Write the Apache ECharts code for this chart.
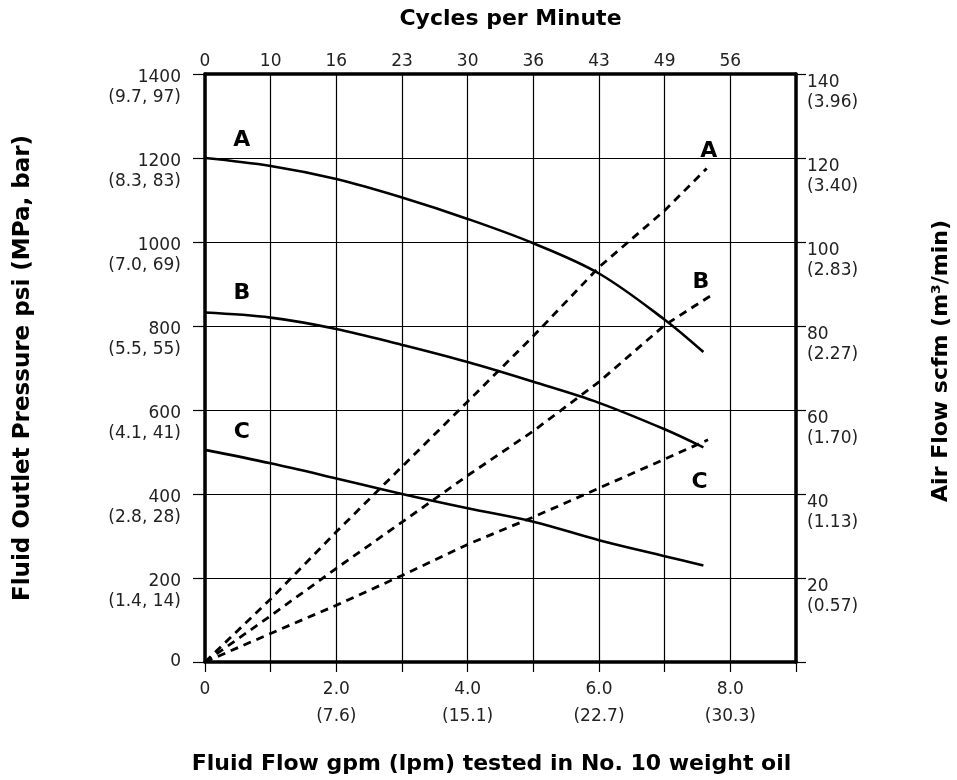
<!DOCTYPE html>
<html>
<head>
<meta charset="utf-8">
<title>Fluid / Air Flow Performance</title>
<script src="https://cdn.jsdelivr.net/npm/echarts@6/dist/echarts.min.js"></script>
<style>
  html, body { margin: 0; padding: 0; background: #fff; }
  #chart { width: 957px; height: 780px; }
</style>
</head>
<body>
<div id="chart"></div>
<script>
// fluid flow (gpm) for the pressure curves
const flowGpm = [0, 1, 2, 3, 4, 5, 6, 7, 7.59]
const psiA = [1200, 1181, 1150, 1106, 1055, 997, 925, 815, 738]
const psiB = [832, 820, 793, 755, 714, 667, 617, 554, 511]
const psiC = [505, 473, 437, 400, 366, 334, 290, 252, 230]

// air consumption (scfm) dashed lines
const airGpmA = [0, 1, 2, 3, 4, 5, 6, 7, 7.64]
const scfmA = [0, 15, 31, 46.5, 62, 77.6, 94, 107.5, 117.5]
const airGpmB = [0, 1, 2, 3, 4, 5, 6, 7, 7.7]
const scfmB = [0, 11, 22.3, 33.3, 44.4, 55, 66.7, 80.2, 87.2]
const airGpmC = [0, 1, 2, 3, 4, 5, 6, 7, 7.66]
const scfmC = [0, 6.8, 13.5, 20.6, 28, 34.5, 41.4, 48.3, 52.9]

// tick labels
const gpmLabels = ['0', '', '2.0', '', '4.0', '', '6.0', '', '8.0', '']
const lpmLabels = ['', '', '(7.6)', '', '(15.1)', '', '(22.7)', '', '(30.3)', '']
const cycleLabels = ['0', '10', '16', '23', '30', '36', '43', '49', '56', '']
const psiSub = ['', '(1.4, 14)', '(2.8, 28)', '(4.1, 41)', '(5.5, 55)', '(7.0, 69)', '(8.3, 83)', '(9.7, 97)']
const scfmSub = ['', '(0.57)', '(1.13)', '(1.70)', '(2.27)', '(2.83)', '(3.40)', '(3.96)']

// curve letters [gpm, psi, text]
const curveTags = [
  [0.56, 1243, 'A'], [0.56, 879, 'B'], [0.56, 548, 'C'],
  [7.67, 1215, 'A'], [7.55, 905, 'B'], [7.53, 428, 'C']
]

const FONT = 'DejaVu Sans'
const INK = '#000'
const pairs = (xs, ys) => xs.map((x, i) => [x, ys[i]])

const chart = echarts.init(document.getElementById('chart'))

const solid = (name, ys) => ({
  name, type: 'line', xAxisIndex: 0, yAxisIndex: 0,
  data: pairs(flowGpm, ys), smooth: 0.35, symbol: 'none',
  lineStyle: { color: INK, width: 2.6 }, z: 5
})
const dashed = (name, xs, ys) => ({
  name, type: 'line', xAxisIndex: 0, yAxisIndex: 1,
  data: pairs(xs, ys), smooth: false, symbol: 'none',
  lineStyle: { color: INK, width: 2.8, type: [8, 6] }, z: 5
})

const tickText = { fontFamily: FONT, fontSize: 17, color: '#222' }
const titleText = { fontFamily: FONT, fontSize: 22, fontWeight: 'bold', color: INK }

const option = {
  backgroundColor: '#fff',
  animation: false,
  grid: { left: 205, right: 161, top: 74, bottom: 118, outerBoundsMode: 'none' },
  xAxis: [
    {
      type: 'value', position: 'bottom', min: 0, max: 9, interval: 1,
      name: 'Fluid Flow gpm (lpm) tested in No. 10 weight oil',
      nameLocation: 'middle', nameGap: 91,
      nameTextStyle: { ...titleText, padding: [0, 18, 0, 0] },
      axisLine: { onZero: false, lineStyle: { color: INK, width: 3.5 } },
      axisTick: { show: true, length: 10, lineStyle: { color: INK, width: 1.2 } },
      splitLine: { show: true, lineStyle: { color: INK, width: 1.2 } },
      axisLabel: {
        margin: 19, showMinLabel: true, showMaxLabel: true,
        formatter: (v) => {
          const i = Math.round(v)
          if (!gpmLabels[i]) return ''
          return lpmLabels[i] ? `{a|${gpmLabels[i]}}\n{b|${lpmLabels[i]}}` : `{a|${gpmLabels[i]}}`
        },
        rich: {
          a: { ...tickText, lineHeight: 18 },
          b: { ...tickText, lineHeight: 36 }
        }
      }
    },
    {
      type: 'value', position: 'top', min: 0, max: 9, interval: 1,
      name: 'Cycles per Minute', nameLocation: 'middle', nameGap: 44,
      nameTextStyle: { ...titleText, padding: [0, 0, 0, 20] },
      axisLine: { onZero: false, lineStyle: { color: INK, width: 3.5 } },
      axisTick: { show: false },
      splitLine: { show: false },
      axisLabel: {
        ...tickText, margin: 4, showMaxLabel: true,
        formatter: (v) => cycleLabels[Math.round(v)] || ''
      }
    }
  ],
  yAxis: [
    {
      type: 'value', position: 'left', min: 0, max: 1400, interval: 200,
      name: 'Fluid Outlet Pressure psi (MPa, bar)', nameLocation: 'middle',
      nameRotate: 90, nameGap: 170,
      nameTextStyle: { ...titleText, fontSize: 23 },
      axisLine: { onZero: false, lineStyle: { color: INK, width: 3.5 } },
      axisTick: { show: true, length: 12, lineStyle: { color: INK, width: 1.2 } },
      splitLine: { show: true, lineStyle: { color: INK, width: 1.2 } },
      axisLabel: {
        margin: 24, showMaxLabel: true,
        formatter: (v) => {
          const i = Math.round(v / 200)
          return i === 0 ? '{a|0}' : `{p| }\n{a|${v}}\n{a|${psiSub[i]}}`
        },
        rich: { p: { ...tickText, lineHeight: 28 }, a: { ...tickText, lineHeight: 20, align: 'right' } }
      }
    },
    {
      type: 'value', position: 'right', min: 0, max: 140, interval: 20,
      name: 'Air Flow scfm (m³/min)', nameLocation: 'middle',
      nameRotate: 90, nameGap: 134,
      nameTextStyle: { ...titleText, padding: [0, 0, 0, 14] },
      axisLine: { onZero: false, lineStyle: { color: INK, width: 3.5 } },
      axisTick: { show: true, length: 10, lineStyle: { color: INK, width: 1.2 } },
      splitLine: { show: false },
      axisLabel: {
        margin: 11, showMaxLabel: true,
        formatter: (v) => {
          const i = Math.round(v / 20)
          return i === 0 ? '' : `{p| }\n{a|${v}}\n{a|${scfmSub[i]}}`
        },
        rich: { p: { ...tickText, lineHeight: 37 }, a: { ...tickText, lineHeight: 20, align: 'left' } }
      }
    }
  ],
  series: [
    solid('A psi', psiA),
    solid('B psi', psiB),
    solid('C psi', psiC),
    dashed('A scfm', airGpmA, scfmA),
    dashed('B scfm', airGpmB, scfmB),
    dashed('C scfm', airGpmC, scfmC),
    {
      name: 'tags', type: 'scatter', xAxisIndex: 0, yAxisIndex: 0,
      data: curveTags, symbol: 'circle', symbolSize: 0.1, itemStyle: { color: '#fff' },
      label: {
        show: true, position: 'inside', formatter: (p) => p.data[2],
        fontFamily: FONT, fontSize: 22, fontWeight: 'bold', color: '#000', opacity: 1
      },
      emphasis: { disabled: true },
      z: 6
    }
  ]
}

chart.setOption(option)
</script>
</body>
</html>
